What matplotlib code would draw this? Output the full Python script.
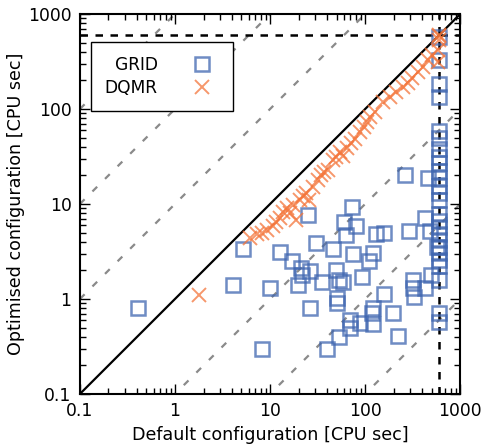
import numpy as np
import matplotlib
matplotlib.use("Agg")
from matplotlib import pyplot as plt
from matplotlib.ticker import LogLocator, FixedLocator, FixedFormatter, NullFormatter

# GRID: default vs optimised CPU time
gridDefault = [
    0.41, 4.1, 5.2, 8.2, 10, 12.7, 17.1, 21.2, 21.7, 26.4, 19.7, 25.1, 30.5,
    35.3, 26.4, 39.8, 46, 49.5, 53, 58.7, 50.7, 50.7, 53, 60, 63, 73, 80, 75,
    69.5, 69.5, 88.6, 93, 110, 121, 131, 158, 121, 119, 121, 158, 197, 222,
    264, 290, 320, 320, 328, 428, 483, 495, 428, 460, 573,
    600, 600, 600, 600, 600, 600, 600, 600, 600, 600, 600, 600, 600, 600,
    600, 600, 600, 600, 600, 600, 600, 600, 600, 600, 600, 600,
]
gridOptimised = [
    0.80, 1.4, 3.4, 0.30, 1.31, 3.1, 2.5, 2.1, 1.79, 1.97, 1.4, 7.7, 3.9,
    1.51, 0.80, 0.30, 3.36, 2.0, 1.58, 1.51, 1.02, 0.91, 0.40, 6.5, 4.7, 9.3,
    5.9, 2.98, 0.60, 0.50, 0.56, 1.7, 2.5, 3.05, 4.8, 5.0, 0.80, 0.71, 0.55,
    1.13, 0.71, 0.41, 20, 5.2, 1.58, 1.31, 1.05, 7.1, 5.2, 1.79, 1.31, 18.8, 3.5,
    573, 328, 183, 134, 58.7, 49.5, 37.9, 31.3, 27, 22.2, 18.8, 15.5, 13.1,
    11.0, 7.85, 6.6, 5.7, 4.8, 4.2, 3.5, 3.05, 2.6, 2.2, 1.6, 0.71, 0.57,
]

# DQMR: default vs optimised CPU time
dqmrDefault = [
    1.8, 6.2, 7.3, 8.2, 9.3, 10.8, 11.6, 12.7, 13.7, 15.1, 16.2, 17.5, 18.8,
    20.7, 22.2, 23.9, 25.7, 28.4, 32, 34.4, 37, 40.8, 46, 49.5, 54.6, 58.7,
    64.7, 71.3, 78.5, 88.6, 97.5, 105, 113, 127, 155, 183, 212, 251, 284, 313,
    361, 408, 460, 507, 590, 590, 600, 600, 600,
]
dqmrOptimised = [
    1.1, 4.4, 4.8, 5.0, 5.3, 5.9, 6.5, 7.1, 8.2, 9.1, 8.0, 9.8, 6.8,
    11.0, 12.1, 13.1, 11.0, 15.1, 17.9, 20.2, 21.7, 22.8, 29, 31.3, 35.3, 32,
    38.8, 43.9, 48.3, 57.3, 64.7, 73, 82.4, 93, 118, 134, 151, 171, 188, 212,
    245, 277, 328, 370, 313, 418, 532, 587, 600,
]

cutoff = 600
diagonalOffsets = [-3, -2, -1, 1, 2, 3]
decades = [0.1, 1, 10, 100, 1000]
decadeLabels = ["0.1", "1", "10", "100", "1000"]

fig = plt.figure(figsize=(4.87, 4.47), dpi=100)
ax = fig.add_axes([0.164, 0.1186, 0.781, 0.850])
ax.set_xscale("log")
ax.set_yscale("log")
ax.set_xlim(0.1, 1000)
ax.set_ylim(0.1, 1000)

line = np.array([0.1, 1000])
for k in diagonalOffsets:
    ax.plot(line, line * 10.0 ** k, color="#8a8a8a", lw=1.6,
            dashes=(3, 5), zorder=1)
ax.plot(line, line, color="black", lw=1.6, zorder=2)
ax.axhline(cutoff, color="black", lw=1.8, dashes=(3, 3), zorder=2)
ax.axvline(cutoff, color="black", lw=1.8, dashes=(3, 3), zorder=2)

ax.plot(gridDefault, gridOptimised, linestyle="none", marker="s",
        markersize=10, markerfacecolor="none", markeredgecolor="#3f66b0",
        markeredgewidth=1.8, alpha=0.75, label="GRID", zorder=3)
ax.plot(dqmrDefault, dqmrOptimised, linestyle="none", marker="x",
        markersize=10.5, markeredgecolor="#f4753a", markeredgewidth=1.4,
        alpha=0.75, label="DQMR", zorder=4)

for axis in (ax.xaxis, ax.yaxis):
    axis.set_major_locator(FixedLocator(decades))
    axis.set_major_formatter(FixedFormatter(decadeLabels))
    axis.set_minor_locator(LogLocator(base=10, subs=np.arange(2, 10), numticks=20))
    axis.set_minor_formatter(NullFormatter())

ax.tick_params(which="both", direction="in", top=True, right=True,
               labelsize=12.3, width=1.0)
ax.tick_params(which="major", length=7, pad=6)
ax.tick_params(which="minor", length=4)
for spine in ax.spines.values():
    spine.set_linewidth(1.5)

ax.set_xlabel("Default configuration [CPU sec]", fontsize=12.6, labelpad=4)
ax.set_ylabel("Optimised configuration [CPU sec]", fontsize=12.6, labelpad=2)

legend = ax.legend(loc="upper left", bbox_to_anchor=(0.029, 0.926),
                   borderaxespad=0, markerfirst=False, fontsize=12.3,
                   fancybox=False, framealpha=1, edgecolor="black",
                   borderpad=0.8, handletextpad=1.6, labelspacing=0.3)
legend.get_frame().set_linewidth(1.0)

plt.savefig("out.png", dpi=100)
